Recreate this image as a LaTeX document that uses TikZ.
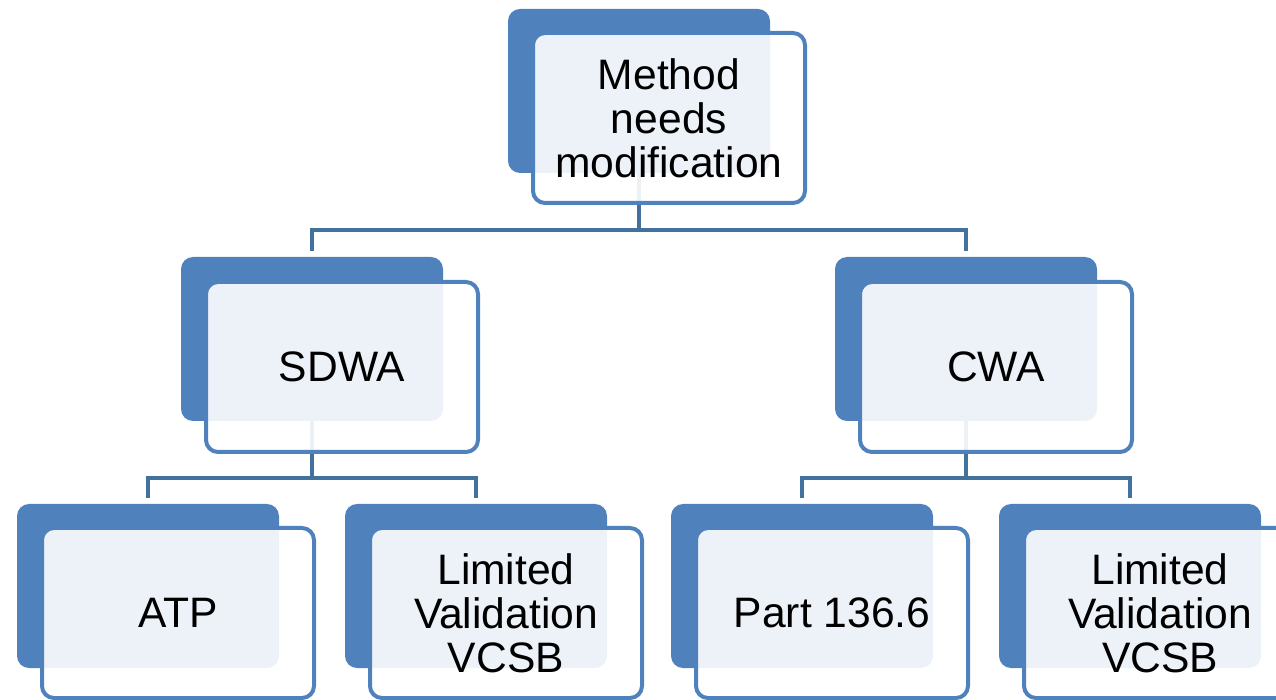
\documentclass[tikz,border=0pt]{standalone}
\usepackage{fontspec}
\setmainfont{Liberation Sans}
\definecolor{boxblue}{HTML}{4F81BD}
\definecolor{lineblue}{HTML}{41719C}
\tikzset{
    backbox/.style={fill=boxblue, rounded corners=6pt, minimum width=131pt, minimum height=82pt, inner sep=0pt},
    frontbox/.style={draw=boxblue, line width=2pt, fill=white, fill opacity=0.9, text opacity=1,
        rounded corners=6pt, minimum width=136pt, minimum height=85pt, inner sep=0pt,
        align=center, font=\fontsize{21.3pt}{22pt}\selectfont},
    conn/.style={draw=lineblue, line width=2pt, shorten >=3pt}
}
\begin{document}
\begin{tikzpicture}[x=0.5pt, y=-0.5pt]
    \useasboundingbox (0,0) rectangle (1276,700);

    % 背后的深色方块
    \node[backbox] (topb) at (639,91) {};
    \node[backbox] (sdwab) at (312,339) {};
    \node[backbox] (cwab) at (966,339) {};
    \node[backbox] (atpb) at (148,586) {};
    \node[backbox] (lvab) at (476,586) {};
    \node[backbox] (partb) at (802,586) {};
    \node[backbox] (lvbb) at (1130,586) {};

    % 连接线
    \coordinate (j0) at (639,230);
    \coordinate (j1) at (312,478);
    \coordinate (j2) at (966,478);
    \draw[conn, shorten >=0pt] (topb.south) -- (j0);
    \draw[conn] (j0) -| (sdwab.north);
    \draw[conn] (j0) -| (cwab.north);
    \draw[conn, shorten >=0pt] (sdwab.south) -- (j1);
    \draw[conn] (j1) -| (atpb.north);
    \draw[conn] (j1) -| (lvab.north);
    \draw[conn, shorten >=0pt] (cwab.south) -- (j2);
    \draw[conn] (j2) -| (partb.north);
    \draw[conn] (j2) -| (lvbb.north);

    % 前面的浅色方块和文字
    \node[frontbox] (top) at ([shift={(30,27)}]topb) {Method\\needs\\modification};
    \node[frontbox] (sdwa) at ([shift={(30,28)}]sdwab) {SDWA};
    \node[frontbox] (cwa) at ([shift={(30,28)}]cwab) {CWA};
    \node[frontbox] (atp) at ([shift={(30,27)}]atpb) {ATP};
    \node[frontbox] (lva) at ([shift={(30,27)}]lvab) {Limited\\Validation\\VCSB};
    \node[frontbox] (part) at ([shift={(30,27)}]partb) {Part 136.6};
    \node[frontbox] (lvb) at ([shift={(30,27)}]lvbb) {Limited\\Validation\\VCSB};

\end{tikzpicture}
\end{document}
